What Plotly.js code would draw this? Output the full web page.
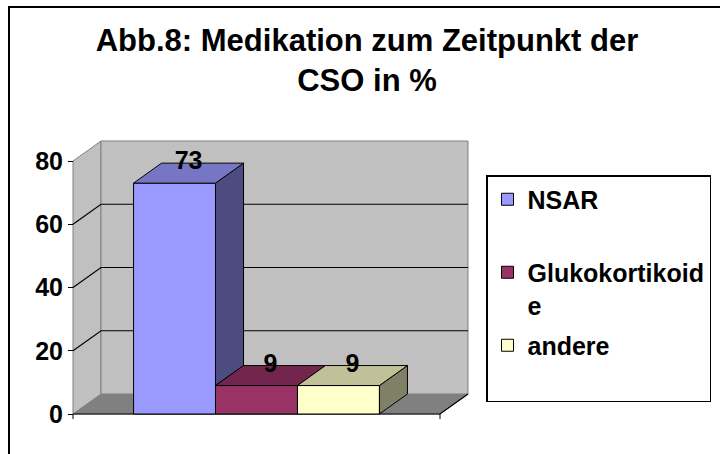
<!DOCTYPE html>
<html><head><meta charset="utf-8">
<script src="https://cdn.plot.ly/plotly-3.0.1.min.js"></script>
<style>html,body{margin:0;padding:0;background:#fff;} #chart{width:720px;height:454px;}</style>
</head><body><div id="chart"></div>
<script>
// ---- data ----
const seriesNames = ['NSAR', 'Glukokortikoide', 'andere'];
const legendLabels = ['NSAR<br> ', 'Glukokortikoid<br>e', 'andere<br> '];
const values = [73, 9, 9];
const valueLabels = ['73', '9', '9'];
const yTicks = [0, 20, 40, 60, 80];
const yMax = 80;

// ---- styles ----
const frontColors = ['#9999FF', '#993366', '#FFFFCC'];
const topColors = ['#7676C4', '#73264D', '#C0C099'];
const sideColors = ['#4C4C80', '#4D1A33', '#808066'];
const FONT = 'Liberation Sans, Arial, Helvetica, sans-serif';

// ---- geometry (pixels) ----
const W = 720, H = 454;
const FRONT_LEFT = 73, FRONT_W = 367;   // front plane x extent
const FRONT_ZERO = 414, FRONT_H = 253;  // y pixel of 0 and height of 0..80
const DEPTH_X = 28, DEPTH_Y = 20;       // 3D depth offset
const PAD = 7;
const PXX = FRONT_W;                    // px per category unit
const PXY = FRONT_H / yMax;             // px per value unit
const DX = DEPTH_X / PXX, DY = DEPTH_Y / PXY;
const GAP = 0.33;
const groupW = 1 - GAP, barW = groupW / values.length;

const xRange = [-0.5 - PAD / PXX, 0.5 + DX + PAD / PXX];
const yRange = [-PAD / PXY, yMax + DY + PAD / PXY];
const xDomain = [(FRONT_LEFT - PAD) / W, (FRONT_LEFT + FRONT_W + DEPTH_X + PAD) / W];
const yDomain = [(H - (FRONT_ZERO + PAD)) / H, (H - (FRONT_ZERO - FRONT_H - DEPTH_Y - PAD)) / H];

const traces = [];
// front faces
values.forEach((v, i) => {
  traces.push({
    type: 'bar', x: [0], y: [v], width: barW, offset: -groupW / 2 + i * barW,
    name: legendLabels[i], legendgroup: 'g' + i,
    marker: { color: frontColors[i], line: { color: '#000', width: 1 } },
    hoverinfo: 'skip'
  });
});
// side and top faces
values.forEach((v, i) => {
  const l = -groupW / 2 + i * barW, r = l + barW;
  const base = i < values.length - 1 ? Math.min(values[i + 1], v) : 0;
  if (v > base) {
    traces.push({
      type: 'scatter', mode: 'lines', fill: 'toself', showlegend: false, hoverinfo: 'skip',
      x: [r, r + DX, r + DX, r, r], y: [base, base + DY, v + DY, v, base],
      fillcolor: sideColors[i], line: { color: '#000', width: 1 }
    });
  }
  traces.push({
    type: 'scatter', mode: 'lines', fill: 'toself', showlegend: false, hoverinfo: 'skip',
    x: [l, r, r + DX, l + DX, l], y: [v, v, v + DY, v + DY, v],
    fillcolor: topColors[i], line: { color: '#000', width: 1 }
  });
});
// value labels
traces.push({
  type: 'scatter', mode: 'text', showlegend: false, hoverinfo: 'skip', cliponaxis: false,
  x: values.map((v, i) => -groupW / 2 + (i + 0.5) * barW + DX / 2),
  y: values.map(v => v + DY),
  text: valueLabels, textposition: 'middle center',
  textfont: { family: FONT, size: 25, color: '#000', weight: 'bold' }
});

// walls, floor, gridlines
const shapes = [];
const L = -0.5, R = 0.5;
shapes.push({ type: 'path', layer: 'below', xref: 'x', yref: 'y',
  path: `M${L},0 L${R},0 L${R + DX},${DY} L${L + DX},${DY} Z`,
  fillcolor: '#808080', line: { color: '#808080', width: 1 } });
shapes.push({ type: 'path', layer: 'below', xref: 'x', yref: 'y',
  path: `M${L},0 L${L + DX},${DY} L${L + DX},${yMax + DY} L${L},${yMax} Z`,
  fillcolor: '#C0C0C0', line: { color: '#808080', width: 1 } });
shapes.push({ type: 'rect', layer: 'below', xref: 'x', yref: 'y',
  x0: L + DX, x1: R + DX, y0: DY, y1: yMax + DY,
  fillcolor: '#C0C0C0', line: { color: '#808080', width: 1 } });
yTicks.filter(t => t > 0 && t < yMax).forEach(t => {
  shapes.push({ type: 'path', layer: 'below', xref: 'x', yref: 'y',
    path: `M${L},${t} L${L + DX},${t + DY} L${R + DX},${t + DY}`,
    line: { color: '#000', width: 1.2 } });
});
shapes.push({ type: 'path', layer: 'below', xref: 'x', yref: 'y',
  path: `M${L},0 L${R},0 L${R + DX},${DY}`, line: { color: '#000', width: 1.2 } });
// x-axis end ticks
[L, R].forEach(xx => shapes.push({ type: 'line', layer: 'above', xref: 'x', yref: 'paper',
  x0: xx, x1: xx, y0: (H - FRONT_ZERO) / H, y1: (H - FRONT_ZERO - 5) / H,
  line: { color: '#000', width: 1 } }));
// chart border
shapes.push({ type: 'rect', xref: 'paper', yref: 'paper', layer: 'below',
  x0: 9 / W, x1: 1.05, y0: -0.05, y1: 1 - 7 / H,
  line: { color: '#000', width: 2 }, fillcolor: 'rgba(0,0,0,0)' });

const layout = {
  width: W, height: H,
  margin: { l: 0, r: 0, t: 0, b: 0, autoexpand: false },
  paper_bgcolor: '#fff', plot_bgcolor: 'rgba(0,0,0,0)',
  hovermode: false,
  font: { family: FONT, color: '#000' },
  title: {
    text: 'Abb.8: Medikation zum Zeitpunkt der<br>CSO in %',
    font: { family: FONT, size: 31, color: '#000', weight: 'bold' },
    xref: 'container', yref: 'container', x: 367 / W, xanchor: 'center',
    y: 1 - 51 / H, yanchor: 'top'
  },
  xaxis: { domain: xDomain, range: xRange, type: 'linear', showgrid: false, zeroline: false,
    showline: false, showticklabels: false, ticks: '', fixedrange: true },
  yaxis: { domain: yDomain, range: yRange, anchor: 'free', position: FRONT_LEFT / W,
    showgrid: false, zeroline: false, showline: false, automargin: false,
    tickmode: 'array', tickvals: yTicks, ticktext: yTicks.map(String),
    ticks: 'outside', ticklen: 5, tickwidth: 1, tickcolor: '#000',
    tickfont: { family: FONT, size: 25, color: '#000', weight: 'bold' }, fixedrange: true },
  barmode: 'overlay',
  showlegend: true,
  legend: {
    x: 486 / W, xanchor: 'left', y: 1 - 175 / H, yanchor: 'top',
    bgcolor: '#fff', bordercolor: '#000', borderwidth: 1.5,
    font: { family: FONT, size: 25, color: '#000', weight: 'bold' },
    valign: 'top', traceorder: 'grouped', tracegroupgap: 5
  },
  shapes: shapes
};

Plotly.newPlot('chart', traces, layout, { displayModeBar: false, staticPlot: true });
</script>
</body></html>
